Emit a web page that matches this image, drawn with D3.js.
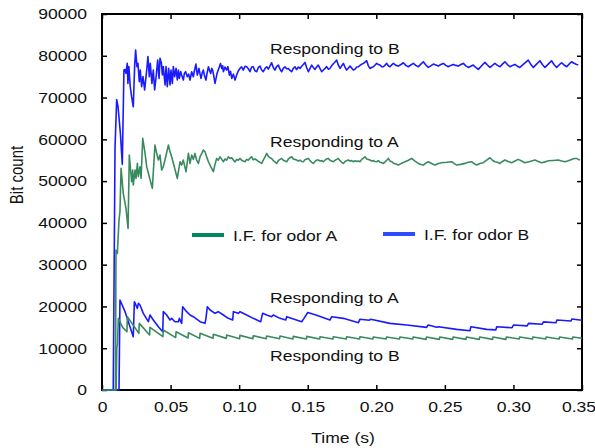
<!DOCTYPE html>
<html>
<head>
<meta charset="utf-8">
<script src="https://cdn.jsdelivr.net/npm/d3@7"></script>
<style>
body { margin: 0; background: #fff; }
text { font-family: "Liberation Sans", Arial, sans-serif; }
</style>
</head>
<body>
<svg width="595" height="448"></svg>
<script>
// [time (s), bit count]
var bRespB = [[0,0],[0.0082,0],[0.0095,58000],[0.0107,69500],[0.0117,67800],[0.0134,61500],[0.0148,54000],[0.0160,76600],[0.0168,76700],[0.0175,75800],[0.0184,78200],[0.0189,73400],[0.0196,77400],[0.0206,72600],[0.0216,70200],[0.0228,67800],[0.0238,77400],[0.0245,81400],[0.0255,77400],[0.0262,78200],[0.0272,73800],[0.0279,76600],[0.0289,72600],[0.0299,75000],[0.0311,71800],[0.0326,76600],[0.0335,79800],[0.0345,75000],[0.0352,78200],[0.0364,73400],[0.0374,76600],[0.0384,71800],[0.0396,75400],[0.0406,79000],[0.0416,74600],[0.0423,79400],[0.0433,78200],[0.0440,75400],[0.0447,77400],[0.0460,73000],[0.0467,77400],[0.0476,72600],[0.0486,77000],[0.0496,73000],[0.0503,76600],[0.0513,73400],[0.0520,77400],[0.0530,75000],[0.0540,77000],[0.0549,74200],[0.0557,76600],[0.0564,74600],[0.0574,76200],[0.0581,75400],[0.0593,74200],[0.0601,75800],[0.0610,76200],[0.0622,74980],[0.0632,75600],[0.0642,74180],[0.0654,76180],[0.0666,74980],[0.0675,76600],[0.0685,78000],[0.0695,75380],[0.0707,76970],[0.0714,75800],[0.0722,74580],[0.0731,75900],[0.0739,76580],[0.0748,75200],[0.0758,74180],[0.0767,76000],[0.0776,77370],[0.0785,76400],[0.0793,75780],[0.0800,77000],[0.0807,76580],[0.0815,75200],[0.0824,73380],[0.0840,75900],[0.0856,77370],[0.0864,78170],[0.0873,76970],[0.0880,77600],[0.0885,76180],[0.0897,77300],[0.0909,76580],[0.0918,77400],[0.0929,75380],[0.0937,76300],[0.0946,74580],[0.0958,75600],[0.0970,74180],[0.0982,75380],[0.0994,76400],[0.1006,76970],[0.1018,77370],[0.1030,76580],[0.1043,77500],[0.1055,77370],[0.1067,76900],[0.1079,76180],[0.1091,77300],[0.1103,77370],[0.1115,76400],[0.1128,76180],[0.1140,77200],[0.1152,77530],[0.1164,76600],[0.1176,76180],[0.1189,77000],[0.1201,77370],[0.1213,76800],[0.1225,77600],[0.1237,78330],[0.1249,77200],[0.1261,76580],[0.1273,77400],[0.1286,77770],[0.1298,76800],[0.1310,76180],[0.1322,77000],[0.1334,77370],[0.1346,76900],[0.1359,76970],[0.1371,76500],[0.1383,76180],[0.1395,77000],[0.1407,77370],[0.1419,76700],[0.1432,77300],[0.1444,76970],[0.1456,77500],[0.1468,77900],[0.1480,78410],[0.1492,77200],[0.1505,76180],[0.1517,77000],[0.1529,77770],[0.1541,77200],[0.1553,76740],[0.1565,77300],[0.1577,77770],[0.1589,77000],[0.1602,76180],[0.1614,76600],[0.1626,76970],[0.1638,77400],[0.1650,76800],[0.1662,76970],[0.1674,77600],[0.1687,78100],[0.1699,78500],[0.1711,78970],[0.1723,77800],[0.1736,76970],[0.1748,77600],[0.1760,78170],[0.1772,77300],[0.1784,76580],[0.1796,77000],[0.1808,77530],[0.1820,77100],[0.1833,76580],[0.1845,76800],[0.1857,77300],[0.1869,77370],[0.1881,77700],[0.1894,78000],[0.1906,78170],[0.1918,78500],[0.1930,78810],[0.1942,77600],[0.1954,76970],[0.1966,77200],[0.1979,77370],[0.1991,77800],[0.2003,78170],[0.2015,77900],[0.2027,77770],[0.2040,77400],[0.2052,77370],[0.2064,77770],[0.2076,78170],[0.2088,77600],[0.2100,77370],[0.2112,77800],[0.2125,78170],[0.2143,77700],[0.2161,77530],[0.2179,77900],[0.2197,78330],[0.2215,77700],[0.2234,77370],[0.2252,77800],[0.2270,78170],[0.2288,77700],[0.2307,77370],[0.2325,78000],[0.2343,78570],[0.2361,77800],[0.2379,77210],[0.2397,77600],[0.2416,78010],[0.2434,77800],[0.2452,77530],[0.2470,77900],[0.2489,78170],[0.2507,77700],[0.2525,77370],[0.2543,77700],[0.2562,77930],[0.2580,77700],[0.2598,77530],[0.2616,77900],[0.2635,78170],[0.2653,77600],[0.2671,77210],[0.2689,77500],[0.2707,77770],[0.2725,77200],[0.2744,76740],[0.2768,77600],[0.2792,78410],[0.2810,77800],[0.2829,77210],[0.2847,77700],[0.2865,78170],[0.2884,77700],[0.2902,77370],[0.2920,78000],[0.2938,78570],[0.2956,77900],[0.2975,77370],[0.2993,77700],[0.3011,77930],[0.3029,77500],[0.3047,77210],[0.3078,78100],[0.3108,78970],[0.3126,78000],[0.3145,77210],[0.3169,78000],[0.3193,78810],[0.3211,77900],[0.3230,77210],[0.3254,78000],[0.3278,78810],[0.3296,77900],[0.3315,77210],[0.3333,77800],[0.3351,78330],[0.3369,77800],[0.3388,77370],[0.3406,78000],[0.3424,78570],[0.3442,78200],[0.3461,77930],[0.3473,77850]];

var aRespA = [[0,0],[0.0098,0],[0.0102,33500],[0.0112,32710],[0.0124,40680],[0.0131,42680],[0.0139,53050],[0.0155,47070],[0.0175,43480],[0.0190,38690],[0.0199,56240],[0.0216,49860],[0.0224,52650],[0.0228,49060],[0.0241,52650],[0.0248,50660],[0.0258,54240],[0.0265,51050],[0.0277,53450],[0.0285,50660],[0.0297,60220],[0.0314,56630],[0.0326,53450],[0.0346,50900],[0.0367,48270],[0.0386,58630],[0.0398,56800],[0.0411,55040],[0.0423,56240],[0.0435,52650],[0.0447,53450],[0.0466,56000],[0.0484,58630],[0.0496,57000],[0.0508,55840],[0.0529,53200],[0.0549,50660],[0.0569,54640],[0.0581,53840],[0.0593,55040],[0.0603,53600],[0.0613,52250],[0.0630,56630],[0.0642,54240],[0.0654,56240],[0.0666,55200],[0.0678,56630],[0.0690,55000],[0.0703,54240],[0.0715,55840],[0.0727,56600],[0.0739,57430],[0.0751,57030],[0.0763,55800],[0.0776,54640],[0.0794,53400],[0.0812,52250],[0.0824,54000],[0.0836,55430],[0.0848,55000],[0.0860,55830],[0.0873,55200],[0.0885,54640],[0.0897,55300],[0.0909,55000],[0.0921,55830],[0.0933,55400],[0.0946,55600],[0.0958,55040],[0.0970,54600],[0.0982,55200],[0.0994,55000],[0.1006,55430],[0.1018,55000],[0.1030,54800],[0.1043,54640],[0.1055,55200],[0.1067,55000],[0.1079,55500],[0.1091,55830],[0.1103,55100],[0.1115,55300],[0.1128,55040],[0.1140,54700],[0.1152,54500],[0.1164,54240],[0.1176,55000],[0.1189,55800],[0.1201,56630],[0.1213,55900],[0.1225,55600],[0.1237,55430],[0.1249,54900],[0.1261,54600],[0.1274,54240],[0.1286,54900],[0.1298,55200],[0.1310,55430],[0.1322,55000],[0.1334,54800],[0.1347,54640],[0.1359,55300],[0.1371,55600],[0.1383,55830],[0.1395,55300],[0.1407,55200],[0.1419,55040],[0.1432,54800],[0.1444,55000],[0.1456,54700],[0.1468,54640],[0.1480,55100],[0.1493,55300],[0.1505,55430],[0.1517,54900],[0.1529,54500],[0.1541,54240],[0.1553,54700],[0.1565,55040],[0.1577,55040],[0.1589,54800],[0.1602,54900],[0.1614,54640],[0.1626,55000],[0.1638,55300],[0.1650,55430],[0.1662,55000],[0.1674,54800],[0.1687,54640],[0.1699,55000],[0.1711,55200],[0.1723,55430],[0.1736,54900],[0.1748,54500],[0.1760,54240],[0.1772,54700],[0.1784,54900],[0.1796,55040],[0.1808,54800],[0.1820,54900],[0.1833,54640],[0.1845,54900],[0.1857,54700],[0.1869,54800],[0.1881,54640],[0.1894,55200],[0.1906,55500],[0.1918,55830],[0.1930,55300],[0.1942,55200],[0.1954,55040],[0.1966,54800],[0.1979,54900],[0.1991,54700],[0.2003,54640],[0.2015,54900],[0.2027,54500],[0.2040,54400],[0.2052,54240],[0.2064,54600],[0.2076,55000],[0.2088,55430],[0.2100,54800],[0.2112,54640],[0.2125,54300],[0.2143,54100],[0.2161,53840],[0.2185,54300],[0.2210,54640],[0.2234,55000],[0.2258,55430],[0.2282,54800],[0.2307,54240],[0.2325,54000],[0.2343,53840],[0.2361,54300],[0.2379,54640],[0.2403,54200],[0.2428,53840],[0.2452,54200],[0.2477,54400],[0.2513,54500],[0.2550,54640],[0.2568,54200],[0.2586,53840],[0.2616,54000],[0.2646,54240],[0.2671,54500],[0.2695,54640],[0.2713,54200],[0.2732,53840],[0.2756,54200],[0.2780,54400],[0.2805,55000],[0.2829,55590],[0.2847,55000],[0.2865,54640],[0.2884,54500],[0.2902,54240],[0.2920,54700],[0.2938,55040],[0.2962,54700],[0.2987,54400],[0.3011,54800],[0.3035,55200],[0.3060,54800],[0.3084,54400],[0.3120,54700],[0.3157,55040],[0.3181,54700],[0.3205,54400],[0.3230,54600],[0.3254,54880],[0.3290,54950],[0.3327,55040],[0.3351,54800],[0.3375,54640],[0.3400,54900],[0.3424,55200],[0.3442,55400],[0.3461,55430],[0.3473,55200],[0.3485,55040]];

var bRespA = [[0,0],[0.0124,0],[0.0127,9200],[0.0131,21540],[0.0168,18750],[0.0204,15150],[0.0228,12760],[0.0236,21140],[0.0258,19540],[0.0265,20740],[0.0277,20340],[0.0301,18350],[0.0338,16350],[0.0350,17950],[0.0374,16750],[0.0411,15150],[0.0443,13950],[0.0447,18750],[0.0472,17950],[0.0496,16750],[0.0508,17150],[0.0532,16350],[0.0557,16350],[0.0564,17150],[0.0581,15950],[0.0588,19940],[0.0617,18750],[0.0642,17950],[0.0666,17550],[0.0715,16350],[0.0751,15950],[0.0758,17150],[0.0768,19940],[0.0788,19140],[0.0824,18350],[0.0848,18750],[0.0885,17950],[0.0921,17150],[0.0953,16750],[0.0958,18750],[0.0995,18350],[0.1006,18750],[0.1055,17950],[0.1103,17150],[0.1157,16350],[0.1171,18350],[0.1201,17950],[0.1237,17550],[0.1249,17950],[0.1298,17150],[0.1340,16750],[0.1347,17550],[0.1456,16350],[0.1473,17150],[0.1500,18550],[0.1560,17950],[0.1662,16750],[0.1675,17550],[0.1760,17150],[0.1870,16110],[0.1881,16950],[0.1950,16700],[0.1960,16950],[0.2100,15950],[0.2222,15550],[0.2367,15000],[0.2379,15550],[0.2441,15000],[0.2453,15150],[0.2586,14520],[0.2683,14200],[0.2690,15150],[0.2805,14520],[0.2872,14400],[0.2878,15150],[0.2990,14900],[0.3000,15550],[0.3100,15350],[0.3110,15950],[0.3210,15750],[0.3219,16300],[0.3310,16100],[0.3317,16750],[0.3420,16500],[0.3426,17000],[0.3499,16700]];

var aRespB = [[0,0],[0.0103,0],[0.0108,10200],[0.0113,11000],[0.0119,17150],[0.0150,15000],[0.0182,13950],[0.0185,17550],[0.0269,13560],[0.0272,15950],[0.0347,13160],[0.0350,15000],[0.0444,12760],[0.0447,14360],[0.0537,12520],[0.0540,13950],[0.0627,12440],[0.0630,13720],[0.0712,12360],[0.0715,13560],[0.0809,12360],[0.0812,13320],[0.0906,12360],[0.0909,13160],[0.1003,12280],[0.1006,13080],[0.1100,12280],[0.1103,13000],[0.1198,12280],[0.1201,12920],[0.1295,12280],[0.1298,12920],[0.1392,12200],[0.1395,12840],[0.1490,12200],[0.1493,12840],[0.1587,12200],[0.1590,12760],[0.1684,12200],[0.1687,12760],[0.1781,12200],[0.1784,12760],[0.1878,12200],[0.1881,12760],[0.1975,12200],[0.1978,12700],[0.2072,12200],[0.2075,12700],[0.2169,12200],[0.2172,12700],[0.2266,12200],[0.2269,12700],[0.2363,12120],[0.2366,12680],[0.2460,12120],[0.2463,12680],[0.2557,12120],[0.2560,12680],[0.2654,12120],[0.2657,12680],[0.2751,12120],[0.2754,12680],[0.2848,12120],[0.2851,12680],[0.2945,12120],[0.2948,12680],[0.3042,12200],[0.3045,12700],[0.3139,12200],[0.3142,12700],[0.3236,12200],[0.3239,12700],[0.3333,12200],[0.3336,12700],[0.3430,12200],[0.3433,12700],[0.3499,12400]];

var xTicks = [0, 0.05, 0.10, 0.15, 0.20, 0.25, 0.30, 0.35];
var xTickLabels = ["0", "0.05", "0.10", "0.15", "0.20", "0.25", "0.30", "0.35"];
var yTicks = [0, 10000, 20000, 30000, 40000, 50000, 60000, 70000, 80000, 90000];

// label text, time, bit count of its baseline start
var notes = [["Responding to B", 0.1225, 80400], ["Responding to A", 0.1225, 58150],
             ["Responding to A", 0.1225, 20820], ["Responding to B", 0.1225, 6940]];

function main(){
var svg = d3.select("svg"),
    margin = {top: 14, right: 13, bottom: 58, left: 102},
    width = +svg.attr("width") - margin.left - margin.right,
    height = +svg.attr("height") - margin.top - margin.bottom,
    g = svg.append("g").attr("transform", "translate(" + margin.left + "," + margin.top + ")");

var stretch = "scale(1.17,1)";  // text in the picture is a bit wider than it is tall

var x = d3.scaleLinear().domain([0, 0.35]).range([0, width]);
var y = d3.scaleLinear().domain([0, 90000]).range([height, 0]);

function styleAxis(sel) {
  sel.select(".domain").remove();
  sel.selectAll("line").attr("stroke", "#000").attr("stroke-width", 1.5);
  sel.attr("font-size", 15).attr("font-family", "Liberation Sans, Arial, sans-serif");
}

// bottom + top
g.append("g")
    .attr("transform", "translate(0," + height + ")")
    .call(d3.axisBottom(x).tickValues(xTicks).tickSizeInner(-5).tickSizeOuter(0)
      .tickFormat(function(d, i) { return xTickLabels[i]; }))
    .call(styleAxis)
  .selectAll("text")
    .attr("fill", "#111")
    .attr("y", 22).attr("dy", 0)
    .attr("x", function(d, i) { return i === xTicks.length - 1 ? -3 : 0; })  // last one sits at the page edge
    .attr("transform", stretch);

g.append("g")
    .call(d3.axisTop(x).tickValues(xTicks).tickSizeInner(-5).tickSizeOuter(0).tickFormat(""))
    .call(styleAxis);

// left + right
g.append("g")
    .call(d3.axisLeft(y).tickValues(yTicks).tickSizeInner(-5).tickSizeOuter(0).tickFormat(d3.format("d")))
    .call(styleAxis)
  .selectAll("text")
    .attr("fill", "#111")
    .attr("x", 0)
    .attr("transform", "translate(-15,0) " + stretch);

g.append("g")
    .attr("transform", "translate(" + width + ",0)")
    .call(d3.axisRight(y).tickValues(yTicks).tickSizeInner(-5).tickSizeOuter(0).tickFormat(""))
    .call(styleAxis);

g.append("rect")
    .attr("width", width).attr("height", height)
    .attr("fill", "none").attr("stroke", "#000").attr("stroke-width", 2);

var line = d3.line()
    .x(function(d) { return x(d[0]); })
    .y(function(d) { return y(d[1]); });

var series = [
  {data: bRespA, color: "#1a1aff"},
  {data: aRespB, color: "#3a8a60"},
  {data: bRespB, color: "#1a1aff"},
  {data: aRespA, color: "#3a8a60"}
];

g.selectAll(".series")
    .data(series)
  .enter().append("path")
    .attr("class", "series")
    .attr("fill", "none")
    .attr("stroke", function(d) { return d.color; })
    .attr("stroke-width", 1.6)
    .attr("stroke-linejoin", "round")
    .attr("d", function(d) { return line(d.data); });

// annotations
g.selectAll(".note")
    .data(notes)
  .enter().append("text")
    .attr("class", "note")
    .attr("transform", function(d) { return "translate(" + x(d[1]) + "," + y(d[2]) + ") " + stretch; })
    .attr("font-size", 15)
    .attr("fill", "#111")
    .text(function(d) { return d[0]; });

// legend
var legend = g.append("g").attr("font-size", 15).attr("fill", "#111");
var items = [
  {label: "I.F. for odor A", color: "#00875f", lx: 90, ly: 221},
  {label: "I.F. for odor B", color: "#2d4bff", lx: 281, ly: 220}
];
items.forEach(function(it) {
  legend.append("line")
      .attr("x1", it.lx).attr("x2", it.lx + 32)
      .attr("y1", it.ly).attr("y2", it.ly)
      .attr("stroke", it.color).attr("stroke-width", 4);
  legend.append("text")
      .attr("transform", "translate(" + (it.lx + 41) + "," + (it.ly + 6) + ") " + stretch)
      .text(it.label);
});

// axis titles
svg.append("text")
    .attr("transform", "translate(343,443) " + stretch)
    .attr("text-anchor", "middle")
    .attr("font-size", 15).attr("fill", "#111")
    .text("Time (s)");

svg.append("text")
    .attr("transform", "translate(23,175) " + stretch + " rotate(-90)")
    .attr("text-anchor", "middle")
    .attr("font-size", 15).attr("fill", "#111")
    .text("Bit count");
}
main()
</script>
</body>
</html>
